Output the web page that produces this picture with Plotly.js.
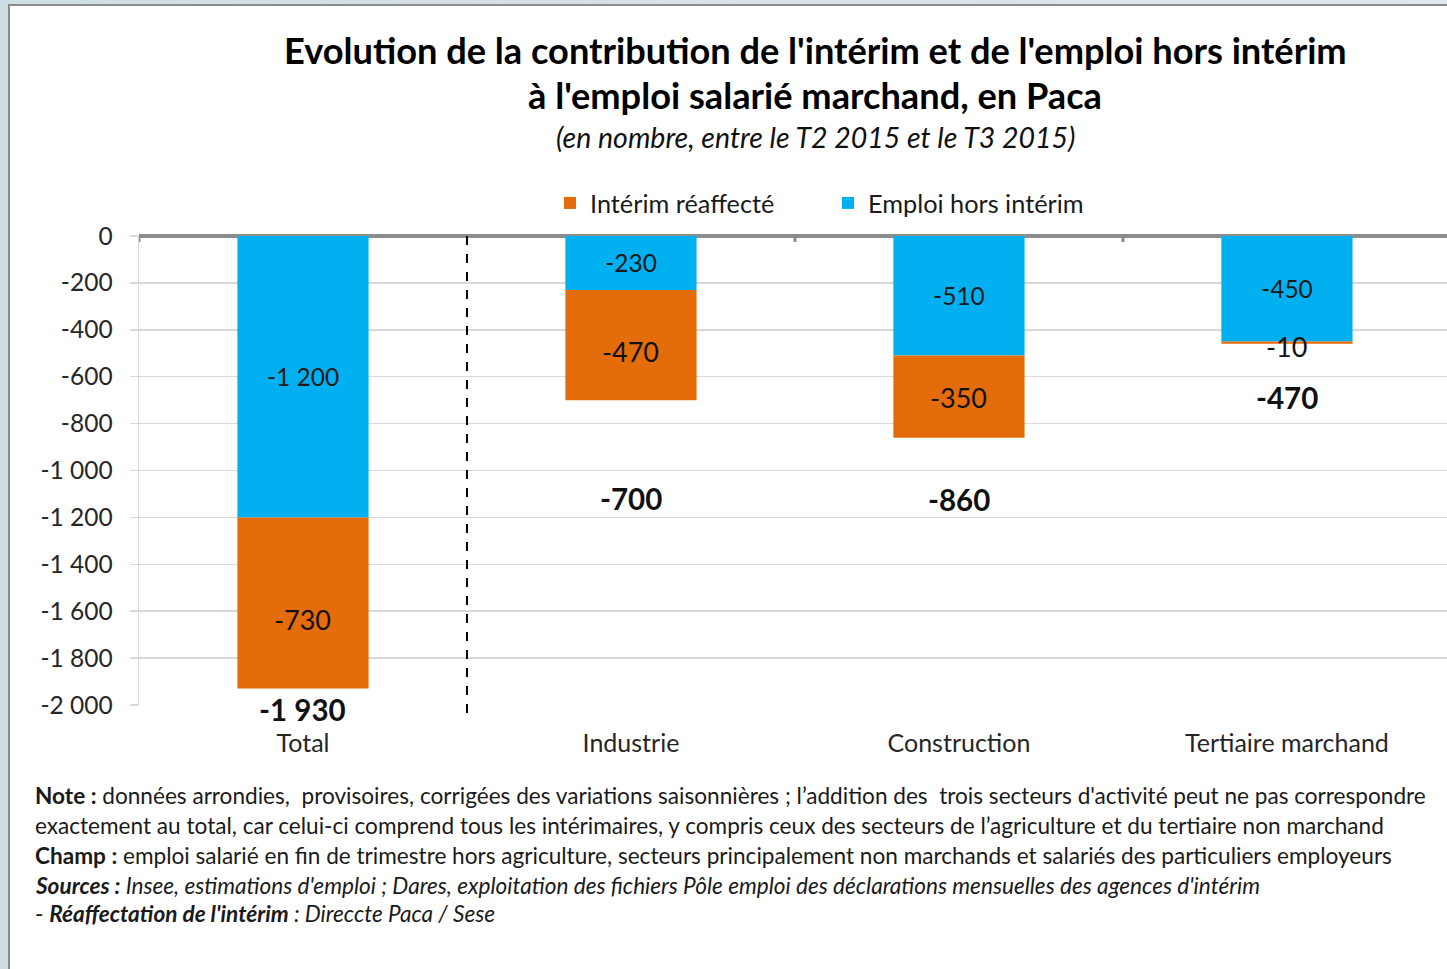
<!DOCTYPE html>
<html>
<head>
<meta charset="utf-8">
<script src="https://cdn.plot.ly/plotly-3.0.1.min.js"></script>
<style>
  html, body { margin: 0; padding: 0; width: 1447px; height: 969px; overflow: hidden;
    background: linear-gradient(90deg, #cfdde4, #dfe8ec); }
  #chart { position: absolute; left: 8px; top: 4px; width: 1439px; height: 965px;
    border-left: 2px solid #8c8c8c; border-top: 2px solid #8c8c8c; background: #fff; }
</style>
</head>
<body>
<div id="chart"></div>
<script>
const categories = ['Total', 'Industrie', 'Construction', 'Tertiaire marchand'];
const emploiHorsInterim = [-1200, -230, -510, -450];
const interimReaffecte = [-730, -470, -350, -10];
const totals = [-1930, -700, -860, -470];
const yTickVals = [0, -200, -400, -600, -800, -1000, -1200, -1400, -1600, -1800, -2000];
const yTickText = ['0', '-200', '-400', '-600', '-800', '-1 000', '-1 200', '-1 400', '-1 600', '-1 800', '-2 000'];

// hand placed labels (px offsets), as in the original
const totalShift = [-21, -98, -62, -51];
const orangeShift = [-17, -6, -1, -4];

const W = 1437, H = 963;
const M = { l: 129, r: 0, t: 230, b: 264 };
const plotW = W - M.l - M.r, plotH = H - M.t - M.b;
// page pixel -> paper coords (chart div sits at page 10,6)
const px = x => (x - 10 - M.l) / plotW;
const py = y => (H - M.b - (y - 6)) / plotH;

function fmt(v) {
    const s = Math.abs(v).toString().replace(/\B(?=(\d{3})+(?!\d))/g, ' ');
    return (v < 0 ? '-' : '') + s;
}

const FONT = 'Lato, "Open Sans", sans-serif';

const traces = [
    {
        type: 'bar', name: 'Emploi hors intérim', x: categories, y: emploiHorsInterim,
        marker: { color: '#00b0f0', line: { width: 0 } },
        text: emploiHorsInterim.map(fmt), textposition: 'inside', insidetextanchor: 'middle',
        constraintext: 'none', textfont: { family: FONT, size: 24.5, color: '#1a1a1a' },
        hoverinfo: 'skip', width: 0.4
    },
    {
        type: 'bar', name: 'Intérim réaffecté', x: categories, y: interimReaffecte,
        marker: { color: '#e46c0a', line: { width: 0 } },
        textposition: 'none',
        hoverinfo: 'skip', width: 0.4
    }
];

const annotations = [
    { text: "<b>Evolution de la contribution de l'intérim et de l'emploi hors intérim</b>",
      x: px(815), y: py(50), font: { size: 36.2, color: '#000' } },
    { text: "<b>à l'emploi salarié marchand, en Paca</b>",
      x: px(815), y: py(95), font: { size: 36.2, color: '#000' } },
    { text: "<i>(en nombre, entre le T2 2015 et le T3 2015)</i>",
      x: px(815), y: py(137), font: { size: 28.5, color: '#111' } }
].map(a => Object.assign({ xref: 'paper', yref: 'paper', showarrow: false, xanchor: 'center', yanchor: 'middle' }, a));

// orange segment labels: centre of each segment, nudged like the original
interimReaffecte.forEach((v, i) => {
    annotations.push({
        x: categories[i], y: emploiHorsInterim[i] + v / 2, xref: 'x', yref: 'y',
        yshift: orangeShift[i], showarrow: false, text: fmt(v),
        font: { family: FONT, size: 27, color: '#111' }, xanchor: 'center', yanchor: 'middle'
    });
});

totals.forEach((t, i) => {
    annotations.push({
        x: categories[i], y: t, xref: 'x', yref: 'y', yshift: totalShift[i], showarrow: false,
        text: '<b>' + fmt(t) + '</b>', font: { family: FONT, size: 29.5, color: '#111' },
        xanchor: 'center', yanchor: 'middle'
    });
});

const notes = [
    "<b>Note :</b> données arrondies,  provisoires, corrigées des variations saisonnières ; l’addition des  trois secteurs d'activité peut ne pas correspondre",
    "exactement au total, car celui-ci comprend tous les intérimaires, y compris ceux des secteurs de l’agriculture et du tertiaire non marchand",
    "<b>Champ :</b> emploi salarié en fin de trimestre hors agriculture, secteurs principalement non marchands et salariés des particuliers employeurs",
    "<b><i>Sources :</i></b><i> Insee, estimations d'emploi ; Dares, exploitation des fichiers Pôle emploi des déclarations mensuelles des agences d'intérim</i>",
    "- <b><i>Réaffectation de l'intérim</i></b><i> : Direccte Paca / Sese</i>"
];
const noteY = [795, 825, 855, 885, 913];
notes.forEach((n, i) => {
    annotations.push({
        text: n, xref: 'paper', yref: 'paper', x: px(33), y: py(noteY[i]),
        xanchor: 'left', yanchor: 'middle', showarrow: false, align: 'left',
        font: { family: FONT, size: 22.6, color: '#1a1a1a' }
    });
});

const shapes = [
    // dashed separator between Total and the sectors
    { type: 'line', xref: 'x', yref: 'paper', x0: 0.5, x1: 0.5, y0: 1, y1: py(716),
      line: { color: '#000', width: 2, dash: 'dash' } }
];
[-0.5, 1.5, 2.5].forEach(x => {
    shapes.push({ type: 'line', xref: 'x', yref: 'paper', x0: x, x1: x, y0: 1, y1: py(242),
      line: { color: '#8c8c8c', width: 3 } });
});

const layout = {
    width: W, height: H,
    margin: M,
    paper_bgcolor: '#fff', plot_bgcolor: '#fff',
    font: { family: FONT, color: '#262626' },
    barmode: 'relative',
    bargap: 0.6,
    showlegend: true,
    legend: {
        orientation: 'h', traceorder: 'reversed', x: px(828), xanchor: 'center',
        y: py(203), yanchor: 'middle', font: { size: 25.3, color: '#1a1a1a' },
        entrywidth: 233, itemclick: false
    },
    xaxis: {
        type: 'category', range: [-0.5, 3.488], showgrid: false, showline: false, zeroline: false,
        ticks: '', tickfont: { size: 25, color: '#262626' }, ticklabelstandoff: 21,
        fixedrange: true
    },
    yaxis: {
        range: [-2000, 0], tickvals: yTickVals, ticktext: yTickText,
        showgrid: true, gridcolor: '#d9d9d9', gridwidth: 1.5,
        showline: true, linecolor: '#d9d9d9', linewidth: 1.5,
        ticks: 'outside', ticklen: 8, tickcolor: '#d9d9d9', tickwidth: 1.5,
        zeroline: true, zerolinecolor: '#8c8c8c', zerolinewidth: 3.5,
        tickfont: { size: 24.5, color: '#262626' }, ticklabelstandoff: 12,
        fixedrange: true
    },
    annotations: annotations,
    shapes: shapes
};

Plotly.newPlot('chart', traces, layout, { displayModeBar: false, staticPlot: true });
</script>
</body>
</html>
